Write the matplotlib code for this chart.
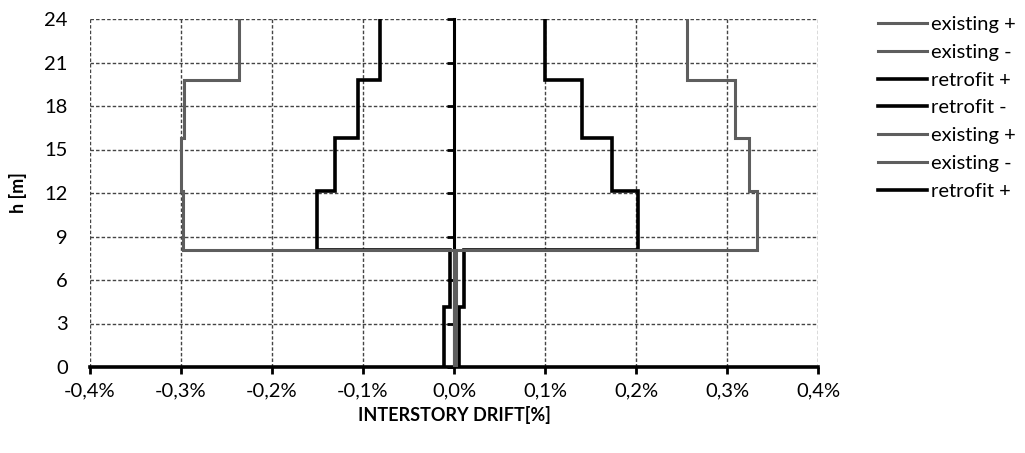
import numpy as np
import matplotlib
matplotlib.use("Agg")
import matplotlib.pyplot as plt
from matplotlib.ticker import FuncFormatter, FixedLocator
from matplotlib.lines import Line2D

plt.rcParams['font.family'] = ['Lato', 'DejaVu Sans']

# storey boundaries [m]
h_levels = [0, 4.16, 8.07, 12.16, 15.77, 19.8, 24]

# interstory drift per storey [%], bottom to top
existing_pos = [0.002, 0.002, 0.333, 0.3245, 0.309, 0.2565]
existing_neg = [-0.0005, -0.0005, -0.298, -0.300, -0.2965, -0.236]
retrofit_pos = [0.005, 0.0105, 0.202, 0.174, 0.141, 0.0996]
retrofit_neg = [-0.0107, -0.0048, -0.151, -0.131, -0.105, -0.081]

legend_labels = ['existing +', 'existing -', 'retrofit +', 'retrofit -',
                 'existing +', 'existing -', 'retrofit +']

x_ticks = [-0.4, -0.3, -0.2, -0.1, 0.0, 0.1, 0.2, 0.3, 0.4]
y_ticks = [0, 3, 6, 9, 12, 15, 18, 21, 24]

gray = '#5e5e5e'
black = '#000000'


def profile(values):
    # vertical step profile: each storey value held between its two levels
    x = np.repeat(values, 2)
    y = np.repeat(h_levels, 2)[1:-1]
    return x, y


fig = plt.figure(figsize=(10.25, 4.53), dpi=100)
ax = fig.add_axes([90 / 1025, 1 - 367 / 453, 728 / 1025, 348 / 453])

for vals, col, lw in [(retrofit_pos, black, 2.6), (retrofit_neg, black, 2.6),
                      (existing_pos, gray, 2.2), (existing_neg, gray, 2.2)]:
    x, y = profile(vals)
    ax.plot(x, y, color=col, lw=lw, solid_joinstyle='miter', zorder=3)

ax.set_xlim(-0.4, 0.4)
ax.set_ylim(0, 24)
ax.xaxis.set_major_locator(FixedLocator(x_ticks))
ax.yaxis.set_major_locator(FixedLocator(y_ticks))


def pct(v, pos):
    if abs(v) < 1e-9:
        v = 0.0
    return f"{v:.1f}%".replace('.', ',')


ax.xaxis.set_major_formatter(FuncFormatter(pct))

ax.grid(True, color='#444444', lw=1.0, ls=(0, (2.5, 1.5)), zorder=1)
ax.set_axisbelow(True)

for s in ['top', 'right']:
    ax.spines[s].set_visible(False)
ax.spines['left'].set_position(('data', 0))
ax.spines['left'].set_linewidth(2.2)
ax.spines['left'].set_zorder(2.5)
ax.spines['bottom'].set_linewidth(2.6)

ax.tick_params(axis='x', direction='out', length=5, width=2, labelsize=14.5, pad=6)
ax.tick_params(axis='y', direction='out', length=5, width=2, labelleft=False)

# y labels sit at the left edge of the plot, while the axis line is at x = 0
sec = ax.secondary_yaxis(0)
sec.spines['left'].set_visible(False)
sec.yaxis.set_major_locator(FixedLocator(y_ticks))
sec.tick_params(axis='y', length=0, labelsize=14.5, pad=16)

ax.set_xlabel('INTERSTORY DRIFT[%]', fontsize=13, fontweight='bold', labelpad=5)
fig.text(18 / 1025, 1 - 193 / 453, 'h [m]', rotation=90, fontsize=13,
         fontweight='bold', ha='center', va='center')

styles = {'existing': (gray, 2.2), 'retrofit': (black, 2.6)}
handles = [Line2D([], [], color=styles[lab.split()[0]][0], lw=styles[lab.split()[0]][1])
           for lab in legend_labels]
fig.legend(handles, legend_labels, loc='upper left',
           bbox_to_anchor=(870 / 1025, 1 - 8 / 453), frameon=False,
           fontsize=14.5, handlelength=2.45, handletextpad=0.2,
           labelspacing=0.53, borderaxespad=0)

fig.savefig('out.png', dpi=100)
